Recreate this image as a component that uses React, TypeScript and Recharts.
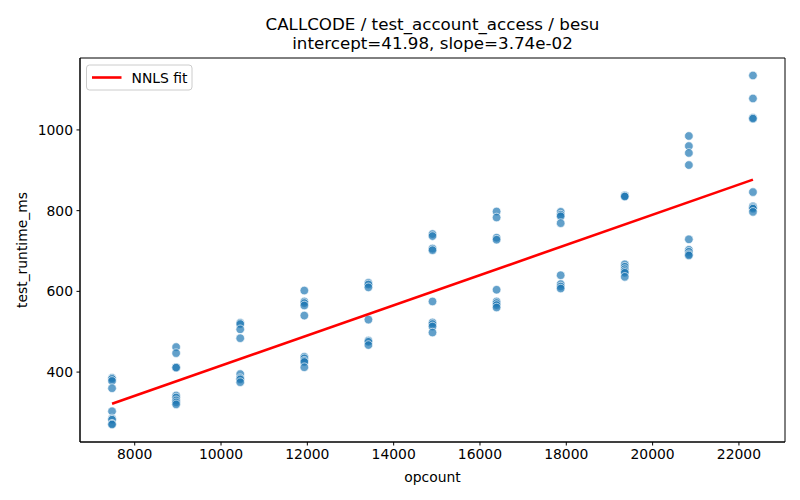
import React from 'react';
import { ScatterChart, Scatter, XAxis, YAxis, ReferenceArea } from 'recharts';

const opcounts = [7475, 8960, 10445, 11930, 13415, 14900, 16385, 17870, 19355, 20840, 22325];
const runtimes: number[][] = [
  [386, 383, 378, 360, 303, 285, 282, 272, 270],
  [462, 447, 412, 411, 342, 337, 330, 325, 320],
  [522, 519, 506, 484, 395, 385, 382, 375],
  [602, 575, 571, 565, 540, 438, 434, 428, 425, 412],
  [621, 617, 610, 530, 478, 475, 467],
  [742, 737, 706, 702, 575, 523, 519, 513, 498],
  [798, 783, 733, 728, 604, 575, 571, 566, 560],
  [797, 790, 786, 769, 640, 618, 612, 607],
  [838, 836, 835, 667, 661, 655, 650, 646, 636],
  [985, 960, 943, 913, 729, 703, 698, 692, 689],
  [1135, 1078, 1030, 1028, 846, 811, 808, 805, 797],
];
const xTicks = [8000, 10000, 12000, 14000, 16000, 18000, 20000, 22000];
const yTicks = [400, 600, 800, 1000];
const intercept = 41.98;
const slope = 0.0374;

const points = opcounts.flatMap((x, i) => runtimes[i].map((y) => ({ x, y })));
const xMin = Math.min(...opcounts);
const xMax = Math.max(...opcounts);
const fitLine = [
  { x: xMin, y: intercept + slope * xMin },
  { x: xMax, y: intercept + slope * xMax },
];
const allY = runtimes.flat();
const yLo = Math.min(...allY);
const yHi = Math.max(...allY);
const xPad = (xMax - xMin) * 0.05;
const yPad = (yHi - yLo) * 0.05;
const xDomain: [number, number] = [xMin - xPad, xMax + xPad];
const yDomain: [number, number] = [yLo - yPad, yHi + yPad];

const FONT = 'DejaVu Sans, sans-serif';
const tickStyle = { fontFamily: FONT, fontSize: 13.9, fill: '#000' };

const Dot = (p: any) => (
  <circle
    cx={p.cx}
    cy={p.cy}
    r={4.3}
    fill="#1f77b4"
    fillOpacity={0.7}
    stroke="#ffffff"
    strokeOpacity={0.8}
    strokeWidth={0.8}
  />
);

export default function App() {
  return (
    <div style={{ position: 'absolute', left: 0, top: 0, width: 800, height: 500, background: '#fff' }}>
      <ScatterChart width={800} height={500} margin={{ top: 58, right: 15, bottom: 0, left: 0 }}>
        <XAxis
          type="number"
          dataKey="x"
          domain={xDomain}
          ticks={xTicks}
          allowDataOverflow
          height={58}
          tickSize={3.5}
          tickMargin={3.5}
          tick={tickStyle}
          stroke="#000"
          axisLine={{ stroke: '#000' }}
          tickLine={{ stroke: '#000' }}
        />
        <YAxis
          type="number"
          dataKey="y"
          domain={yDomain}
          ticks={yTicks}
          allowDataOverflow
          width={80}
          tickSize={3.5}
          tickMargin={3.5}
          tick={tickStyle}
          stroke="#000"
          axisLine={{ stroke: '#000' }}
          tickLine={{ stroke: '#000' }}
        />
        <Scatter data={points} shape={Dot} isAnimationActive={false} />
        <Scatter
          data={fitLine}
          line={{ stroke: '#ff0000', strokeWidth: 2.6 }}
          shape={() => <g />}
          isAnimationActive={false}
        />
        <ReferenceArea
          x1={xDomain[0]}
          x2={xDomain[1]}
          y1={yDomain[0]}
          y2={yDomain[1]}
          fill="none"
          fillOpacity={0}
          stroke="#000"
          strokeWidth={1}
          ifOverflow="visible"
        />
      </ScatterChart>
      <svg
        width={800}
        height={500}
        style={{ position: 'absolute', left: 0, top: 0, pointerEvents: 'none' }}
      >
        <text x={432.5} y={29.5} textAnchor="middle" fontFamily={FONT} fontSize={16.7} fill="#000">
          CALLCODE / test_account_access / besu
        </text>
        <text x={432.5} y={49} textAnchor="middle" fontFamily={FONT} fontSize={16.7} fill="#000">
          intercept=41.98, slope=3.74e-02
        </text>
        <text x={432.5} y={482} textAnchor="middle" fontFamily={FONT} fontSize={13.9} fill="#000">
          opcount
        </text>
        <text
          x={27}
          y={250}
          textAnchor="middle"
          fontFamily={FONT}
          fontSize={13.9}
          fill="#000"
          transform="rotate(-90 27 250)"
        >
          test_runtime_ms
        </text>
        <rect x={86.5} y={65} width={105.5} height={25} rx={3} fill="#fff" fillOpacity={0.8} stroke="#cccccc" strokeWidth={1} />
        <line x1={92} y1={77.5} x2={121.5} y2={77.5} stroke="#ff0000" strokeWidth={2.6} />
        <text x={131.5} y={82.5} fontFamily={FONT} fontSize={13.9} fill="#000">
          NNLS fit
        </text>
      </svg>
    </div>
  );
}
